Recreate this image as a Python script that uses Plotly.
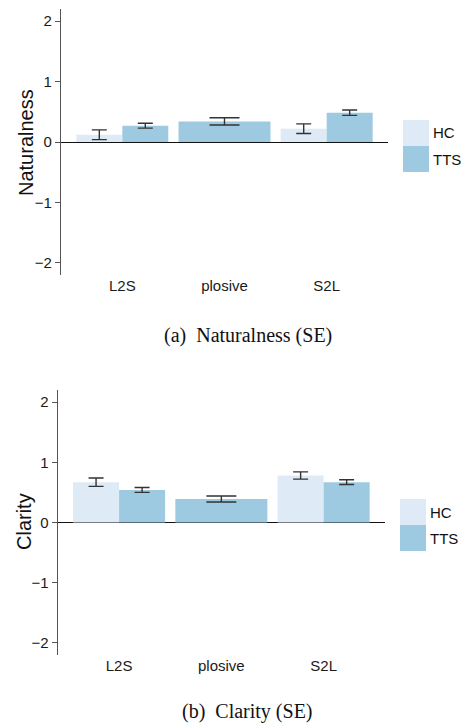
import plotly.graph_objects as go

categories = ["L2S", "plosive", "S2L"]
groups = ["HC", "TTS"]
colors = {"HC": "#deebf7", "TTS": "#9ecae1"}

nat_hc_mean = [0.12, None, 0.22]
nat_hc_se = [0.08, None, 0.08]
nat_tts_mean = [0.27, 0.34, 0.485]
nat_tts_se = [0.04, 0.06, 0.045]

cla_hc_mean = [0.67, None, 0.78]
cla_hc_se = [0.07, None, 0.06]
cla_tts_mean = [0.54, 0.39, 0.67]
cla_tts_se = [0.04, 0.05, 0.04]

yticks = [-2, -1, 0, 1, 2]
captions = ["(a)  Naturalness (SE)", "(b)  Clarity (SE)"]
ytitles = ["Naturalness", "Clarity"]

W, H = 464, 727
fig = go.Figure()

panels = [
    dict(hc=(nat_hc_mean, nat_hc_se), tts=(nat_tts_mean, nat_tts_se), xa="x", ya="y"),
    dict(hc=(cla_hc_mean, cla_hc_se), tts=(cla_tts_mean, cla_tts_se), xa="x2", ya="y2"),
]

for p in panels:
    hc_m, hc_s = p["hc"]
    tts_m, tts_s = p["tts"]
    for i, cat in enumerate(categories):
        bars = []
        if hc_m[i] is not None:
            bars.append(("HC", i - 0.225, 0.45, hc_m[i], hc_s[i], 7.5))
            bars.append(("TTS", i + 0.225, 0.45, tts_m[i], tts_s[i], 7.5))
        else:
            bars.append(("TTS", i, 0.9, tts_m[i], tts_s[i], 15))
        for g, xc, w, m, s, cap in bars:
            fig.add_trace(go.Bar(
                x=[xc], y=[m], width=[w], xaxis=p["xa"], yaxis=p["ya"],
                marker=dict(color=colors[g], line=dict(width=0)),
                error_y=dict(type="data", array=[s], visible=True, color="#333333",
                             thickness=1.4, width=cap),
                showlegend=False, name=g, hoverinfo="skip",
            ))

def px_x(v):
    return v / W

def px_y(v):
    return 1 - v / H

tickfont = dict(family="Liberation Sans, Arial, sans-serif", size=15, color="#1a1a1a")

common_x = dict(range=[-0.6, 2.6], tickmode="array", tickvals=[0, 1, 2], ticktext=categories,
                showgrid=False, zeroline=False, showline=False, ticks="",
                tickfont=tickfont, fixedrange=True)
common_y = dict(range=[-2.2, 2.2], tickmode="array", tickvals=yticks,
                ticktext=["\u22122", "\u22121", "0", "1", "2"],
                showgrid=False, zeroline=True, zerolinecolor="#111111", zerolinewidth=1.3,
                showline=True, linecolor="#555555", linewidth=1.4, ticks="outside",
                ticklen=5, tickcolor="#555555", tickwidth=1, tickfont=tickfont, fixedrange=True)

fig.update_layout(
    width=W, height=H, margin=dict(l=0, r=0, t=0, b=0),
    paper_bgcolor="white", plot_bgcolor="white", showlegend=False, barmode="overlay",
    xaxis=dict(common_x, domain=[px_x(61), px_x(388)], anchor="y"),
    yaxis=dict(common_y, domain=[px_y(275), px_y(9)], anchor="x"),
    xaxis2=dict(common_x, domain=[px_x(57.7), px_x(385)], anchor="y2"),
    yaxis2=dict(common_y, domain=[px_y(655), px_y(390)], anchor="x2"),
)

shapes = []
annotations = []
# legends
legend_pos = [(403, 120), (400, 499)]
for (lx, ly) in legend_pos:
    for k, g in enumerate(groups):
        y0 = ly + k * 26
        shapes.append(dict(type="rect", xref="paper", yref="paper",
                           x0=px_x(lx), x1=px_x(lx + 26), y0=px_y(y0 + 26), y1=px_y(y0),
                           fillcolor=colors[g], line=dict(width=0), layer="above"))
        annotations.append(dict(xref="paper", yref="paper", x=px_x(lx + 28), y=px_y(y0 + 13),
                                text=g, showarrow=False, xanchor="left", yanchor="middle",
                                font=dict(family="Liberation Sans, Arial, sans-serif", size=15, color="#111111")))

# y titles
for (tx, ty), t in zip([(26, 143), (24, 522)], ytitles):
    annotations.append(dict(xref="paper", yref="paper", x=px_x(tx), y=px_y(ty), text=t,
                            textangle=-90, showarrow=False, xanchor="center", yanchor="middle",
                            font=dict(family="Liberation Sans, Arial, sans-serif", size=20, color="#111111")))

# captions
for cy, c in zip([335, 711], captions):
    annotations.append(dict(xref="paper", yref="paper", x=px_x(248), y=px_y(cy), text=c,
                            showarrow=False, xanchor="center", yanchor="middle",
                            font=dict(family="Liberation Serif, Times New Roman, serif", size=20, color="#111111")))

fig.update_layout(shapes=shapes, annotations=annotations)
fig.write_html("out.html", config={"displayModeBar": False},
               post_script="document.body.style.margin='0';document.body.style.overflow='hidden';")
